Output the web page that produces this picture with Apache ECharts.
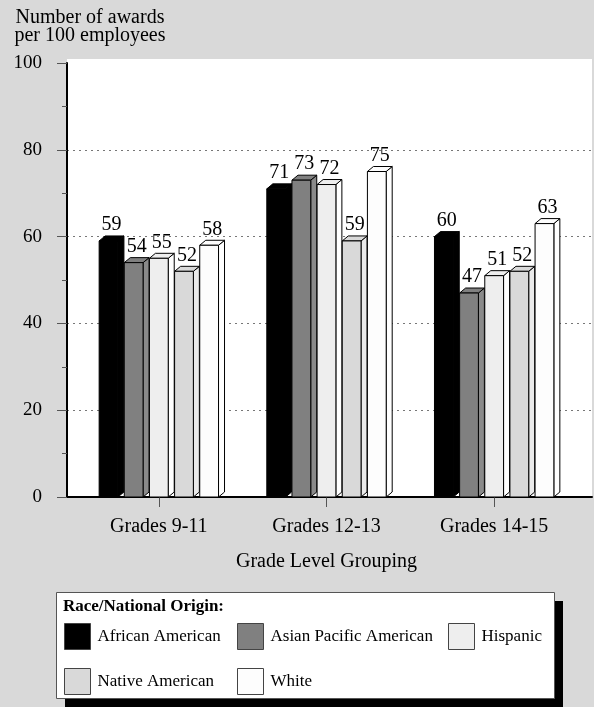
<!DOCTYPE html>
<html>
<head>
<meta charset="utf-8">
<script src="https://cdn.jsdelivr.net/npm/echarts@6/dist/echarts.min.js"></script>
<style>
  html, body { margin: 0; padding: 0; background: #d9d9d9; }
  #chart { width: 594px; height: 707px; }
</style>
</head>
<body>
<div id="chart"></div>
<script>
// Grade groupings along the category axis
const categories = ['Grades 9-11', 'Grades 12-13', 'Grades 14-15'];

// Awards per 100 employees, one array per group
const africanAmerican = [59, 71, 60];
const asianPacificAmerican = [54, 73, 47];
const hispanic = [55, 72, 51];
const nativeAmerican = [52, 59, 52];
const white = [58, 75, 63];

const seriesNames = ['African American', 'Asian Pacific American', 'Hispanic', 'Native American', 'White'];
const seriesValues = [africanAmerican, asianPacificAmerican, hispanic, nativeAmerican, white];
const seriesColors = ['#000000', '#808080', '#eeeeee', '#d9d9d9', '#fdfdfd'];

// Value axis ticks
const yTicks = [0, 20, 40, 60, 80, 100];

const FONT = "'Liberation Serif', 'Times New Roman', serif";
const PITCH = 0.150;   // bar spacing as share of band
const WIDTH = 0.112;   // bar front width as share of band
const DX = 6, DY = 5;  // extrusion of the 3D faces

function renderBar(params, api) {
  const cat = api.value(0);
  const val = api.value(1);
  const base = api.coord([cat, 0]);
  const top = api.coord([cat, val]);
  const band = api.size([1, 0])[0];
  const pitch = band * PITCH;
  const w = band * WIDTH;
  const k = params.seriesIndex;
  const x = base[0] + (k - 2) * pitch - w / 2;
  const y0 = base[1], y1 = top[1];
  const color = api.visual('color');
  const side = echarts.color.lift(color, -0.08);
  const stroke = { stroke: '#000', lineWidth: 1 };
  return {
    type: 'group',
    children: [
      { type: 'polygon', shape: { points: [[x + w, y1], [x + w + DX, y1 - DY], [x + w + DX, y0 - DY], [x + w, y0]] },
        style: Object.assign({ fill: side }, stroke) },
      { type: 'polygon', shape: { points: [[x, y1], [x + DX, y1 - DY], [x + w + DX, y1 - DY], [x + w, y1]] },
        style: Object.assign({ fill: color }, stroke) },
      { type: 'rect', shape: { x: x, y: y1, width: w, height: y0 - y1 },
        style: Object.assign({ fill: color }, stroke) },
      { type: 'text', x: x + w / 2 + DX / 2, y: y1 - DY - 1,
        style: { text: String(val), fill: '#000', font: '20px ' + FONT, align: 'center', verticalAlign: 'bottom' } }
    ]
  };
}

const chart = echarts.init(document.getElementById('chart'), null, { renderer: 'canvas' });

const series = seriesNames.map((name, k) => ({
  name: name,
  type: 'custom',
  xAxisIndex: 2,
  yAxisIndex: 2,
  renderItem: renderBar,
  itemStyle: { color: seriesColors[k] },
  encode: { x: 0, y: 1 },
  data: categories.map((c, i) => [i, seriesValues[k][i]])
}));

const legendCommon = {
  orient: 'vertical',
  icon: 'rect',
  padding: 0,
  itemWidth: 26,
  itemHeight: 26,
  itemGap: 18,
  top: 623,
  textStyle: { fontFamily: FONT, fontSize: 17, color: '#000', padding: [0, 0, 0, 2] },
  itemStyle: { borderColor: '#444', borderWidth: 1 },
  selectedMode: false
};

chart.setOption({
  backgroundColor: '#d9d9d9',
  animation: false,
  textStyle: { fontFamily: FONT },
  grid: [
    { left: 67, right: 2, top: 59, bottom: 210, show: true, backgroundColor: '#ffffff', borderWidth: 0 },
    { left: 67, right: 2, top: 63, bottom: 210 },
    { left: 75, right: 16, top: 63, bottom: 210 }
  ],
  xAxis: [
    { gridIndex: 0, type: 'value', show: false },
    { gridIndex: 1, type: 'value', min: 0, max: 1,
      axisLine: { show: true, lineStyle: { color: '#000', width: 2 } },
      axisTick: { show: false }, axisLabel: { show: false }, splitLine: { show: false } },
    { gridIndex: 2, type: 'category', data: categories,
      axisLine: { show: false },
      axisTick: { show: true, alignWithLabel: true, length: 10, lineStyle: { color: '#555', width: 1 } },
      axisLabel: { margin: 20, fontSize: 20, color: '#000', fontFamily: FONT },
      name: 'Grade Level Grouping', nameLocation: 'middle', nameGap: 55,
      nameTextStyle: { fontSize: 20, color: '#000', fontFamily: FONT } }
  ],
  yAxis: [
    { gridIndex: 0, type: 'value', show: false },
    { gridIndex: 1, type: 'value', min: yTicks[0], max: yTicks[yTicks.length - 1], interval: yTicks[1] - yTicks[0],
      axisLine: { show: true, lineStyle: { color: '#000', width: 2 } },
      axisTick: { show: true, length: 10, lineStyle: { color: '#555', width: 1 } },
      minorTick: { show: true, splitNumber: 2, length: 5, lineStyle: { color: '#555', width: 1 } },
      axisLabel: { margin: 25, fontSize: 19, color: '#000', fontFamily: FONT },
      splitLine: { show: true, showMinLine: false, showMaxLine: false,
        lineStyle: { color: '#777', width: 1, type: [2, 4] } } },
    { gridIndex: 2, type: 'value', min: yTicks[0], max: yTicks[yTicks.length - 1], show: false }
  ],
  legend: [
    Object.assign({ left: 64, data: ['African American', 'Native American'] }, legendCommon),
    Object.assign({ left: 237, data: ['Asian Pacific American', 'White'] }, legendCommon),
    Object.assign({ left: 448, data: ['Hispanic'] }, legendCommon)
  ],
  graphic: [
    { type: 'text', x: 90, y: 9, z: 10,
      style: { text: 'Number of awards\nper 100 employees', font: '20px ' + FONT, fill: '#000',
        lineHeight: 18, align: 'center', verticalAlign: 'top' } },
    { type: 'rect', left: 65, top: 601, z: -1, shape: { width: 498, height: 106 }, style: { fill: '#000' } },
    { type: 'rect', left: 56, top: 592, z: 0, shape: { width: 498, height: 106 }, style: { fill: '#fff', stroke: '#555', lineWidth: 1 } },
    { type: 'text', left: 63, top: 598, z: 1,
      style: { text: 'Race/National Origin:', font: 'bold 17px ' + FONT, fill: '#000' } }
  ],
  series: series
});
</script>
</body>
</html>
